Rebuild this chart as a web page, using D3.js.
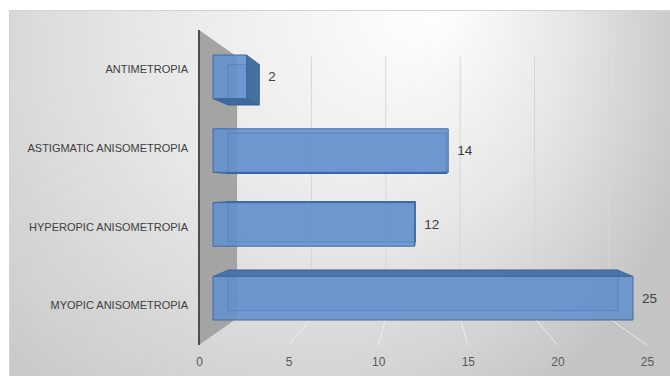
<!DOCTYPE html>
<html>
<head>
<meta charset="utf-8">
<script src="https://cdn.jsdelivr.net/npm/d3@7"></script>
<style>
	body { margin: 0; background: #fff; }
	svg { display: block; font-family: "Liberation Sans", Arial, sans-serif; }
</style>
</head>
<body>
<svg id="chart" width="670" height="376"></svg>
<script>
// data
var categories = ['ANTIMETROPIA', 'ASTIGMATIC ANISOMETROPIA', 'HYPEROPIC ANISOMETROPIA', 'MYOPIC ANISOMETROPIA'];
var counts = [2, 14, 12, 25];
var tickValues = [0, 5, 10, 15, 20, 25];

var svg = d3.select('#chart');
var W = 670, H = 376;

// front plane of the 3d box
var x = d3.scaleLinear().domain([0, 25]).range([199, 647]);
var y = d3.scaleBand().domain(categories).range([30, 345]).paddingInner(0.41).paddingOuter(0.205);

// perspective: shrink toward a vanishing point as depth goes 0 (front) -> 1 (back wall)
var vp = [423, 187.5];
var shrink = d3.scaleLinear().domain([0, 1]).range([1, 0.83]);
var barFront = 0.368, barBack = 0.761;

function project(px, py, t) {
	var f = shrink(t);
	return [vp[0] + (px - vp[0]) * f, vp[1] + (py - vp[1]) * f];
}

var poly = function (pts) { return d3.line()(pts) + 'Z'; };

// background
var defs = svg.append('defs');
var bg = defs.append('radialGradient')
		.attr('id', 'bg')
		.attr('gradientUnits', 'userSpaceOnUse')
		.attr('cx', 260).attr('cy', 60).attr('r', 440)
		.attr('fx', 440).attr('fy', 0);
bg.append('stop').attr('offset', 0).attr('stop-color', '#ffffff');
bg.append('stop').attr('offset', 0.5).attr('stop-color', '#e6e6e6');
bg.append('stop').attr('offset', 1).attr('stop-color', '#c4c4c4');

svg.append('rect')
		.attr('x', 9).attr('y', 10)
		.attr('width', W - 9).attr('height', H - 10)
		.attr('fill', 'url(#bg)');
svg.append('path')
		.attr('d', 'M9.5,' + H + 'V10.5H' + W)
		.attr('fill', 'none')
		.attr('stroke', '#d4d4d4');

// back wall gridlines
var grid = svg.append('g').attr('class', 'grid');
tickValues.slice(1).forEach(function (v) {
	var a = project(x(v), 30, 1), b = project(x(v), 345, 1);
	grid.append('line')
			.attr('x1', a[0]).attr('y1', a[1])
			.attr('x2', b[0]).attr('y2', b[1])
			.attr('stroke', '#d6d6d6');
	// floor line running forward to the axis
	var c = project(x(v), 345, 0);
	grid.append('line')
			.attr('x1', b[0]).attr('y1', b[1])
			.attr('x2', c[0]).attr('y2', c[1])
			.attr('stroke', '#f2f2f2')
			.attr('stroke-opacity', 0.8);
});

// left side wall
var wall = [project(x(0), 30, 0), project(x(0), 30, 1), project(x(0), 345, 1), project(x(0), 345, 0)];
svg.append('path')
		.attr('d', poly(wall))
		.attr('fill', '#a4a4a4');
svg.append('line')
		.attr('x1', x(0)).attr('y1', 30)
		.attr('x2', x(0)).attr('y2', 345)
		.attr('stroke', '#4d4d4d')
		.attr('stroke-width', 2);

// bars
var bars = svg.append('g').attr('class', 'bars');
categories.forEach(function (cat, i) {
	var v = counts[i];
	var x0 = x(0), x1 = x(v), y0 = y(cat), y1 = y(cat) + y.bandwidth();

	var F = [project(x0, y0, barFront), project(x1, y0, barFront), project(x1, y1, barFront), project(x0, y1, barFront)];
	var B = [project(x0, y0, barBack), project(x1, y0, barBack), project(x1, y1, barBack), project(x0, y1, barBack)];

	var g = bars.append('g').attr('class', 'bar series-' + i);

	// back face
	g.append('path')
			.attr('d', poly(B))
			.attr('fill', '#4f7fbf')
			.attr('fill-opacity', 0.35)
			.attr('stroke', '#3d679e')
			.attr('stroke-opacity', 0.6);

	// visible side faces
	if (B[0][1] < F[0][1]) {
		g.append('path').attr('d', poly([F[0], F[1], B[1], B[0]]))
				.attr('fill', '#4b74ab').attr('stroke', '#3d659b').attr('stroke-width', 0.8);
	}
	if (B[3][1] > F[3][1]) {
		g.append('path').attr('d', poly([F[3], F[2], B[2], B[3]]))
				.attr('fill', '#40699f').attr('stroke', '#365d92').attr('stroke-width', 0.8);
	}
	if (B[1][0] > F[1][0]) {
		g.append('path').attr('d', poly([F[1], B[1], B[2], F[2]]))
				.attr('fill', '#45709f').attr('stroke', '#365d92').attr('stroke-width', 0.8);
	}

	// front face
	g.append('path')
			.attr('d', poly(F))
			.attr('fill', '#6291cd')
			.attr('fill-opacity', 0.88)
			.attr('stroke', '#3f6aa3')
			.attr('stroke-width', 1);

	// back edges seen through the glass-like face
	g.append('path')
			.attr('d', poly(B))
			.attr('fill', 'none')
			.attr('stroke', '#3d679e')
			.attr('stroke-opacity', 0.25);

	var right = Math.max(F[1][0], B[1][0]);
	g.append('text')
			.attr('x', right + 9)
			.attr('y', (F[0][1] + F[3][1]) / 2)
			.attr('dy', '0.35em')
			.attr('font-size', '13.5px')
			.attr('fill', '#404040')
			.text(v);
});

// category labels
svg.append('g').selectAll('text')
		.data(categories)
		.enter().append('text')
		.attr('x', 188)
		.attr('y', function (d) { return y(d) + y.bandwidth() / 2; })
		.attr('dy', '0.35em')
		.attr('text-anchor', 'end')
		.attr('font-size', '11px')
		.attr('fill', '#404040')
		.text(function (d) { return d; });

// value axis along the front edge
var axis = svg.append('g')
		.attr('transform', 'translate(0,362)')
		.call(d3.axisBottom(x).tickValues(tickValues).tickSize(0).tickPadding(0));
axis.select('.domain').remove();
axis.selectAll('text')
		.attr('dy', '0.35em')
		.attr('font-family', '"Liberation Sans", Arial, sans-serif')
		.attr('font-size', '12px')
		.attr('fill', '#595959');
</script>
</body>
</html>
